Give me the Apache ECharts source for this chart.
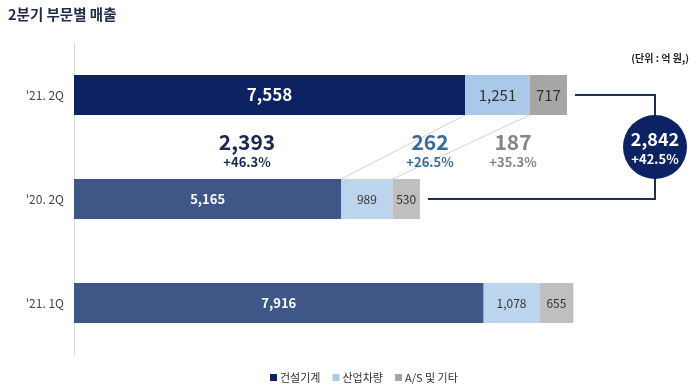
<!DOCTYPE html>
<html>
<head>
<meta charset="utf-8">
<script src="https://cdn.jsdelivr.net/npm/echarts@6/dist/echarts.min.js"></script>
<style>html,body{margin:0;padding:0;background:#fff}#c{width:700px;height:391px}</style>
</head>
<body>
<div id="c"></div>
<script>
var categories = ["'21. 2Q", "'20. 2Q", "'21. 1Q"];
var seriesNames = ['건설기계', '산업차량', 'A/S 및 기타'];
var construction = [7558, 5165, 7916];
var industrial = [1251, 989, 1078];
var others = [717, 530, 655];

var FONT = "'Noto Sans CJK KR', 'Noto Sans', sans-serif";
var chart = echarts.init(document.getElementById('c'), null, {renderer: 'canvas'});

function fmt(v) { return v.toLocaleString('en-US'); }

var navyTop = '#0c2262', navy = '#3f5786';
var lbTop = '#a9c8ea', lb = '#bcd4ee';
var grTop = '#a6a6a6', gr = '#bfbfbf';

function mk(vals, topColor, color, topLabel, label) {
  return vals.map(function (v, i) {
    return {
      value: v,
      itemStyle: {color: i === 0 ? topColor : color},
      label: i === 0 ? topLabel : label
    };
  });
}

var option = {
  animation: false,
  textStyle: {fontFamily: FONT},
  title: [
    {text: '2분기 부문별 매출', left: 8, top: 7, padding: 0,
     textStyle: {fontSize: 14.5, fontWeight: 'bold', color: '#1f2a4d', fontFamily: FONT}},
    {text: '(단위 : 억 원,)', right: 11, top: 53, padding: 0,
     textStyle: {fontSize: 10, fontWeight: 'bold', color: '#222', fontFamily: FONT}}
  ],
  legend: {
    bottom: 3, left: 265, itemWidth: 7, itemHeight: 7, itemGap: 12, icon: 'rect',
    textStyle: {fontSize: 11, color: '#333', fontFamily: FONT, padding: [0, 0, 0, -2]},
    data: [
      {name: seriesNames[0], itemStyle: {color: navyTop}},
      {name: seriesNames[1], itemStyle: {color: lbTop}},
      {name: seriesNames[2], itemStyle: {color: grTop}}
    ]
  },
  grid: {left: 74, right: 5, top: 43, bottom: 36},
  xAxis: {type: 'value', min: 0, max: 12000, show: false},
  yAxis: {
    type: 'category', inverse: true, data: categories,
    axisLine: {show: true, lineStyle: {color: '#d9d9d9', width: 1}},
    axisTick: {show: false},
    axisLabel: {fontSize: 12, color: '#444', margin: 10, fontFamily: FONT}
  },
  series: [
    {name: seriesNames[0], type: 'bar', stack: 't', barWidth: 40, data: mk(construction, navyTop, navy,
      {show: true, fontSize: 17, fontWeight: 'bold', color: '#fff'},
      {show: true, fontSize: 13, fontWeight: 'bold', color: '#fff'}),
     label: {show: true, position: 'inside', formatter: function (p) { return fmt(p.value); }, fontFamily: FONT}},
    {name: seriesNames[1], type: 'bar', stack: 't', barWidth: 40, data: mk(industrial, lbTop, lb,
      {show: true, fontSize: 15, color: '#333'},
      {show: true, fontSize: 12, color: '#333'}),
     label: {show: true, position: 'inside', formatter: function (p) { return fmt(p.value); }, fontFamily: FONT}},
    {name: seriesNames[2], type: 'bar', stack: 't', barWidth: 40, data: mk(others, grTop, gr,
      {show: true, fontSize: 15, color: '#333'},
      {show: true, fontSize: 12, color: '#333'}),
     label: {show: true, position: 'inside', formatter: function (p) { return fmt(p.value); }, fontFamily: FONT}}
  ]
};
chart.setOption(option);

// Derived annotations (from data)
var half = 20;
function px(v, i) { return chart.convertToPixel({gridIndex: 0}, [v, i]); }
var n1 = px(construction[0], 0), n2 = px(construction[1], 1);
var l1 = px(construction[0] + industrial[0], 0), l2 = px(construction[1] + industrial[1], 1);
var e1 = px(construction[0] + industrial[0] + others[0], 0);
var e2 = px(construction[1] + industrial[1] + others[1], 1);
var tot1 = construction[0] + industrial[0] + others[0];
var tot2 = construction[1] + industrial[1] + others[1];
function pct(a, b) { return '+' + ((a - b) / b * 100).toFixed(1) + '%'; }

var cx = 655, cy = 147, r = 32;
var g = [];
g.push({type: 'line', z: 1, shape: {x1: n1[0], y1: n1[1] + half, x2: n2[0], y2: n2[1] - half},
  style: {stroke: '#d2d2d2', lineWidth: 1}});
g.push({type: 'line', z: 1, shape: {x1: l1[0], y1: l1[1] + half, x2: l2[0], y2: l2[1] - half},
  style: {stroke: '#d2d2d2', lineWidth: 1}});
g.push({type: 'polyline', z: 5, shape: {points: [[e1[0] + 8, e1[1]], [cx, e1[1]], [cx, e2[1]], [e2[0] + 8, e2[1]]]},
  style: {stroke: '#1f2d5a', lineWidth: 2, fill: null}});
g.push({type: 'circle', z: 6, shape: {cx: cx, cy: cy, r: r}, style: {fill: '#0c2262'}});
g.push({type: 'text', z: 7, style: {text: fmt(tot1 - tot2), x: cx, y: cy - 8, align: 'center', verticalAlign: 'middle',
  fontSize: 18, fontWeight: 'bold', fill: '#fff', fontFamily: FONT}});
g.push({type: 'text', z: 7, style: {text: pct(tot1, tot2), x: cx, y: cy + 12, align: 'center', verticalAlign: 'middle',
  fontSize: 13, fontWeight: 'bold', fill: '#fff', fontFamily: FONT}});

var ann = [
  {x: 247, a: construction, color: '#1a2550'},
  {x: 430, a: industrial, color: '#3b6a9c'},
  {x: 513, a: others, color: '#858585'}
];
ann.forEach(function (o) {
  g.push({type: 'text', z: 7, style: {text: fmt(o.a[0] - o.a[1]), x: o.x, y: 142, align: 'center', verticalAlign: 'middle',
    fontSize: 21, fontWeight: 'bold', fill: o.color, fontFamily: FONT}});
  g.push({type: 'text', z: 7, style: {text: pct(o.a[0], o.a[1]), x: o.x, y: 162, align: 'center', verticalAlign: 'middle',
    fontSize: 13, fontWeight: 'bold', fill: o.color, fontFamily: FONT}});
});
chart.setOption({graphic: g});
</script>
</body>
</html>
